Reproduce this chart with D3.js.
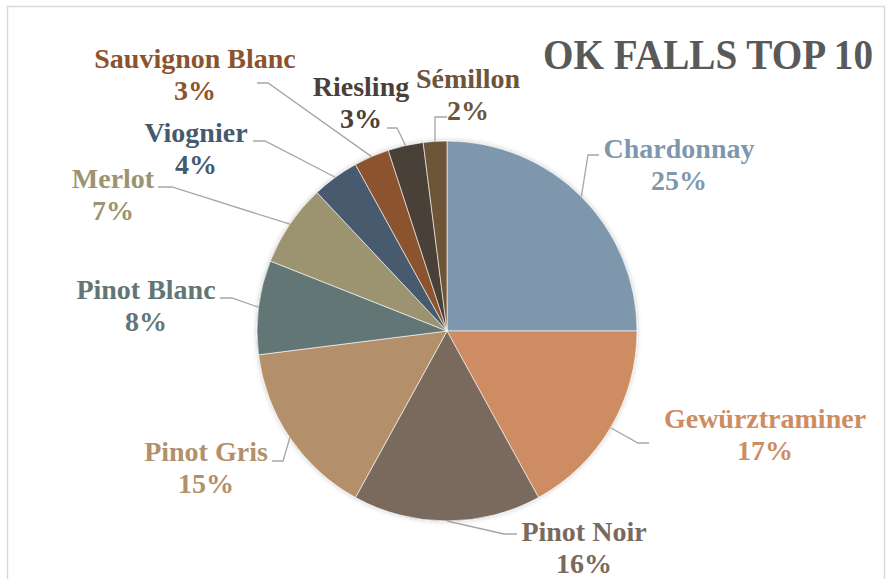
<!DOCTYPE html>
<html>
<head>
<meta charset="utf-8">
<script src="https://cdn.jsdelivr.net/npm/d3@7"></script>
<style>
  body { margin: 0; background: #fff; }
  text { font-family: "Liberation Serif", "DejaVu Serif", serif; font-weight: bold; }
</style>
</head>
<body>
<div id="chart"></div>
<script>
// Wine varieties, clockwise from 12 o'clock
const varieties = ["Chardonnay", "Gewürztraminer", "Pinot Noir", "Pinot Gris", "Pinot Blanc",
                   "Merlot", "Viognier", "Sauvignon Blanc", "Riesling", "Sémillon"];
const shares = [25, 17, 16, 15, 8, 7, 4, 3, 3, 2];
const colors = ["#7f97ad", "#cd8c62", "#7a695d", "#b3906a", "#637676",
                "#9c9470", "#465a6e", "#8b532e", "#4a3f39", "#6e5438"];

const width = 890, height = 579;
const cx = 447, cy = 331, radius = 190;

// label placement (text centre x, first baseline y, leader end x, elbow x, leader y)
const labelPos = {
    "Chardonnay":      { x: 679, y: 158, ex: 599, bx: 588, ly: 155 },
    "Gewürztraminer":  { x: 765, y: 428, ex: 649, bx: 638, ly: 443 },
    "Pinot Noir":      { x: 584, y: 541, ex: 517, bx: 504, ly: 534 },
    "Pinot Gris":      { x: 206, y: 461, ex: 272, bx: 283, ly: 461 },
    "Pinot Blanc":     { x: 146, y: 299, ex: 220, bx: 232, ly: 298 },
    "Merlot":          { x: 113, y: 188, ex: 158, bx: 172, ly: 187 },
    "Viognier":        { x: 196, y: 142, ex: 253, bx: 265, ly: 141 },
    "Sauvignon Blanc": { x: 195, y: 68,  ex: 257, bx: 268, ly: 83 },
    "Riesling":        { x: 361, y: 96,  ex: 387, bx: 397, ly: 128 },
    "Sémillon":        { x: 468, y: 88,  ex: 447, bx: 435, ly: 117 }
};

const data = varieties.map((v, i) => ({ name: v, value: shares[i], color: colors[i] }));

const svg = d3.select("#chart")
    .append("svg")
    .attr("width", width)
    .attr("height", height);

// soft shadow under the pie
const defs = svg.append("defs");
defs.append("filter")
    .attr("id", "shadow")
    .attr("x", "-10%").attr("y", "-10%")
    .attr("width", "120%").attr("height", "120%")
    .append("feDropShadow")
    .attr("dx", 0).attr("dy", 0)
    .attr("stdDeviation", 2.5)
    .attr("flood-color", "#000")
    .attr("flood-opacity", 0.22);

// chart frame
svg.append("rect")
    .attr("x", 7.5).attr("y", 6.5)
    .attr("width", 877).attr("height", 600)
    .attr("fill", "none")
    .attr("stroke", "#d9d9d9")
    .attr("stroke-width", 1.5);

// title, squeezed horizontally to the narrower original face
const title = svg.append("text")
    .attr("text-anchor", "end")
    .attr("font-size", 42)
    .attr("fill", "#595959")
    .text("OK FALLS TOP 10");
const sx = 330 / title.node().getComputedTextLength();
title.attr("transform", `translate(873,69) scale(${sx},1)`);

const pie = d3.pie()
    .sort(null)
    .value(d => d.value);

const arc = d3.arc()
    .innerRadius(0)
    .outerRadius(radius);

const arcs = pie(data);

const g = svg.append("g")
    .attr("transform", `translate(${cx},${cy})`);

g.append("g")
    .attr("filter", "url(#shadow)")
    .selectAll("path")
    .data(arcs)
    .enter()
    .append("path")
    .attr("d", arc)
    .attr("fill", d => d.data.color)
    .attr("stroke", "#fff")
    .attr("stroke-width", 0.6);

// leader lines: slice edge at mid-angle -> elbow -> label
const edge = d => {
    const a = (d.startAngle + d.endAngle) / 2;
    return [cx + radius * Math.sin(a), cy - radius * Math.cos(a)];
};

svg.append("g")
    .selectAll("polyline")
    .data(arcs)
    .enter()
    .append("polyline")
    .attr("points", d => {
        const p = labelPos[d.data.name];
        const e = edge(d);
        return [e, [p.bx, p.ly], [p.ex, p.ly]].map(q => q.join(",")).join(" ");
    })
    .attr("fill", "none")
    .attr("stroke", "#a6a6a6")
    .attr("stroke-width", 1.3);

// labels
const labels = svg.append("g")
    .selectAll("text")
    .data(arcs)
    .enter()
    .append("text")
    .attr("text-anchor", "middle")
    .attr("font-size", 28)
    .attr("fill", d => d.data.color);

labels.append("tspan")
    .attr("x", d => labelPos[d.data.name].x)
    .attr("y", d => labelPos[d.data.name].y)
    .text(d => d.data.name);

labels.append("tspan")
    .attr("x", d => labelPos[d.data.name].x)
    .attr("y", d => labelPos[d.data.name].y + 32)
    .text(d => d.data.value + "%");
</script>
</body>
</html>
